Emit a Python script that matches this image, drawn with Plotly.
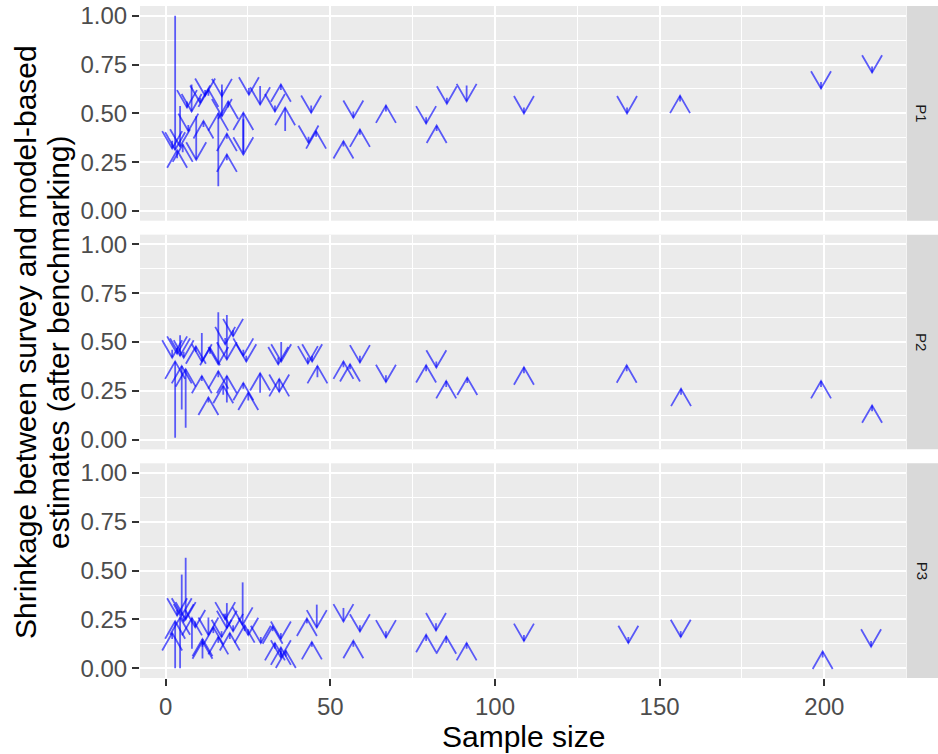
import plotly.graph_objects as go

# ---------------- data (sample size, shrinkage from -> to) ----------------
panels = ["P1", "P2", "P3"]

p1_n = [2.0, 2.9, 3.5, 4.4, 5.2, 6.5, 6.9, 7.9, 9.3, 10.5, 11.5, 12.0, 13.0,
        16.0, 17.1, 17.1, 19.0, 18.6, 18.6, 23.6, 23.6, 25.3, 28.7, 33.2, 35.0,
        36.3, 43.4, 44.2, 45.7, 54.0, 57.0, 59.0, 66.9, 79.1, 82.3, 85.4, 91.4,
        108.8, 140.1, 156.2, 199.0, 214.5]
p1_from = [0.36, 1.00, 0.27, 0.537, 0.30, 0.56, 0.44, 0.648, 0.485, 0.58, 0.43, 0.62, 0.59,
           0.126, 0.648, 0.62, 0.53, 0.26, 0.37, 0.30, 0.47, 0.63, 0.64, 0.54, 0.62,
           0.41, 0.38, 0.54, 0.38, 0.33, 0.51, 0.39, 0.51, 0.48, 0.41, 0.58, 0.642,
           0.53, 0.53, 0.56, 0.66, 0.74]
p1_to = [0.32, 0.314, 0.31, 0.33, 0.34, 0.53, 0.41, 0.51, 0.263, 0.554, 0.46, 0.59, 0.622,
         0.50, 0.485, 0.588, 0.56, 0.289, 0.395, 0.503, 0.289, 0.596, 0.545, 0.51, 0.648,
         0.528, 0.349, 0.503, 0.408, 0.357, 0.477, 0.417, 0.54, 0.448, 0.437, 0.55, 0.562,
         0.50, 0.50, 0.59, 0.627, 0.709]

p2_n = [2.9, 4.9, 6.1, 4.4, 2.0, 3.5, 5.5, 11.0, 9.2, 13.5, 11.0, 13.0, 16.0, 18.6,
        18.1, 20.5, 16.0, 17.5, 18.6, 23.6, 25.1, 23.6, 24.5, 28.7, 34.2, 35.1, 34.5,
        34.5, 43.2, 44.5, 46.1, 54.0, 56.0, 59.0, 66.9, 79.1, 82.2, 85.2, 91.6,
        108.8, 140.0, 156.5, 199.0, 214.5]
p2_from = [0.01, 0.154, 0.06, 0.535, 0.46, 0.47, 0.45, 0.546, 0.45, 0.44, 0.30, 0.19, 0.652, 0.638,
           0.52, 0.56, 0.32, 0.23, 0.19, 0.26, 0.20, 0.46, 0.43, 0.24, 0.42, 0.50, 0.28,
           0.28, 0.42, 0.43, 0.32, 0.37, 0.36, 0.43, 0.33, 0.35, 0.40, 0.27, 0.29,
           0.34, 0.35, 0.23, 0.27, 0.145]
p2_to = [0.40, 0.377, 0.36, 0.43, 0.42, 0.44, 0.42, 0.40, 0.477, 0.47, 0.326, 0.215, 0.386, 0.41,
         0.489, 0.53, 0.35, 0.275, 0.326, 0.29, 0.24, 0.43, 0.40, 0.34, 0.386, 0.40, 0.31,
         0.245, 0.39, 0.40, 0.377, 0.40, 0.386, 0.395, 0.295, 0.381, 0.369, 0.30, 0.317,
         0.37, 0.38, 0.26, 0.30, 0.175]

p3_n = [2.9, 4.4, 4.9, 6.1, 2.0, 3.5, 5.5, 8.0, 11.2, 11.2, 9.0, 13.0, 14.5, 16.0, 17.0,
        18.6, 19.5, 20.5, 18.1, 23.4, 25.1, 24.0, 28.9, 32.5, 35.0, 33.2, 35.0, 35.0, 36.5,
        42.9, 45.9, 44.4, 54.0, 59.0, 57.0, 66.9, 79.1, 82.1, 85.2, 91.4,
        108.8, 140.5, 156.4, 199.5, 214.2]
p3_from = [0.0, 0.0, 0.48, 0.566, 0.15, 0.30, 0.27, 0.10, 0.05, 0.11, 0.24, 0.26, 0.18, 0.13, 0.19,
           0.334, 0.15, 0.22, 0.28, 0.44, 0.20, 0.19, 0.16, 0.19, 0.18, 0.10, 0.07, 0.09, 0.06,
           0.23, 0.326, 0.11, 0.309, 0.22, 0.11, 0.19, 0.14, 0.23, 0.13, 0.10,
           0.17, 0.16, 0.19, 0.055, 0.14]
p3_to = [0.24, 0.26, 0.27, 0.25, 0.18, 0.27, 0.24, 0.257, 0.15, 0.137, 0.21, 0.171, 0.21, 0.16, 0.16,
         0.206, 0.18, 0.19, 0.25, 0.223, 0.17, 0.22, 0.129, 0.214, 0.151, 0.129, 0.106, 0.055, 0.09,
         0.254, 0.209, 0.134, 0.24, 0.188, 0.14, 0.158, 0.171, 0.194, 0.163, 0.129,
         0.14, 0.129, 0.16, 0.085, 0.111]

x_ticks = [0, 50, 100, 150, 200]
y_ticks = [0, 0.25, 0.5, 0.75, 1.0]
x_title = "Sample size"
y_title_1 = "Shrinkage between survey and model-based"
y_title_2 = "estimates (after benchmarking)"

# ---------------- layout geometry ----------------
W, H = 938, 754
ML, MR, MT, MB = 140, 32, 6, 76
GAP = 14
X_RANGE = [-7.77, 224.8]
Y_RANGE = [-0.05, 1.05]
plot_w = W - ML - MR
plot_h = H - MT - MB
panel_h = (plot_h - 2 * GAP) / 3
px_x = plot_w / (X_RANGE[1] - X_RANGE[0])
px_y = panel_h / (Y_RANGE[1] - Y_RANGE[0])
HEAD_LEN = 20  # px, arrow head side length (ggplot-style, 30 degrees)
hw = HEAD_LEN * 0.5 / px_x
hh = HEAD_LEN * 0.866 / px_y

LINE_COL = "rgba(0,0,255,0.62)"
LW = 1.8
FONT = "Liberation Sans, Arial, sans-serif"

data = [(p1_n, p1_from, p1_to), (p2_n, p2_from, p2_to), (p3_n, p3_from, p3_to)]

fig = go.Figure()
domains = []
for i in range(3):
    top = 1 - i * (panel_h + GAP) / plot_h
    bottom = top - panel_h / plot_h
    domains.append([bottom, top])

for i, (ns, y0s, y1s) in enumerate(data):
    sfx = "" if i == 0 else str(i + 1)
    for n, a, b in zip(ns, y0s, y1s):
        d = 1 if b >= a else -1
        fig.add_trace(go.Scatter(x=[n, n], y=[a, b], mode="lines",
                                 line=dict(color=LINE_COL, width=LW),
                                 xaxis="x" + sfx, yaxis="y" + sfx,
                                 hoverinfo="skip", showlegend=False))
        fig.add_trace(go.Scatter(x=[n - hw, n, n + hw], y=[b - d * hh, b, b - d * hh],
                                 mode="lines", line=dict(color=LINE_COL, width=LW),
                                 xaxis="x" + sfx, yaxis="y" + sfx,
                                 hoverinfo="skip", showlegend=False))

layout = dict(
    width=W, height=H,
    margin=dict(l=ML, r=MR, t=MT, b=MB, pad=0, autoexpand=False),
    plot_bgcolor="#EBEBEB", paper_bgcolor="white",
    font=dict(family=FONT, color="#4D4D4D"),
    showlegend=False,
)
for i in range(3):
    sfx = "" if i == 0 else str(i + 1)
    last = (i == 2)
    layout["xaxis" + sfx] = dict(
        domain=[0, 1], anchor="y" + sfx, range=X_RANGE, tickvals=x_ticks,
        showticklabels=last, ticks="outside" if last else "", ticklen=7, tickwidth=1.5,
        tickcolor="#333333", tickfont=dict(size=24, color="#4D4D4D", family=FONT),
        showgrid=True, gridcolor="white", gridwidth=2, zeroline=False, showline=False,
        minor=dict(dtick=25, tick0=0, showgrid=True, gridcolor="white", gridwidth=1, ticks=""),
        fixedrange=True, automargin=False,
    )
    layout["yaxis" + sfx] = dict(
        domain=domains[i], anchor="x" + sfx, range=Y_RANGE, tickvals=y_ticks,
        tickformat=".2f", ticks="outside", ticklen=7, tickwidth=1.5, tickcolor="#333333",
        tickfont=dict(size=24, color="#4D4D4D", family=FONT),
        showgrid=True, gridcolor="white", gridwidth=2, zeroline=False, showline=False,
        minor=dict(dtick=0.125, tick0=0, showgrid=True, gridcolor="white", gridwidth=1, ticks=""),
        fixedrange=True, automargin=False,
    )
fig.update_layout(**layout)

shapes = []
annotations = []
strip_x0 = 1 + 0.7 / plot_w
strip_x1 = 1 + MR / plot_w
for i in range(3):
    shapes.append(dict(type="rect", xref="paper", yref="paper", x0=strip_x0, x1=strip_x1,
                       y0=domains[i][0], y1=domains[i][1], fillcolor="#D9D9D9",
                       line=dict(width=0), layer="below"))
    annotations.append(dict(text=panels[i], xref="paper", yref="paper",
                            x=(922 - ML) / plot_w, y=(domains[i][0] + domains[i][1]) / 2,
                            showarrow=False, textangle=90,
                            font=dict(size=15, color="#1A1A1A", family=FONT),
                            xanchor="center", yanchor="middle"))

annotations.append(dict(text=x_title, xref="paper", yref="paper",
                        x=0.5, y=(H - MB - 736) / plot_h,
                        showarrow=False, font=dict(size=30, color="black", family=FONT),
                        xanchor="center", yanchor="middle"))
annotations.append(dict(text=y_title_1, xref="paper", yref="paper",
                        x=(25 - ML) / plot_w, y=0.5, showarrow=False, textangle=-90,
                        font=dict(size=30, color="black", family=FONT),
                        xanchor="center", yanchor="middle"))
annotations.append(dict(text=y_title_2, xref="paper", yref="paper",
                        x=(58 - ML) / plot_w, y=0.5, showarrow=False, textangle=-90,
                        font=dict(size=30, color="black", family=FONT),
                        xanchor="center", yanchor="middle"))
fig.update_layout(shapes=shapes, annotations=annotations)

fig.write_html("out.html", config={"displayModeBar": False},
               post_script="document.body.style.margin='0px';")
